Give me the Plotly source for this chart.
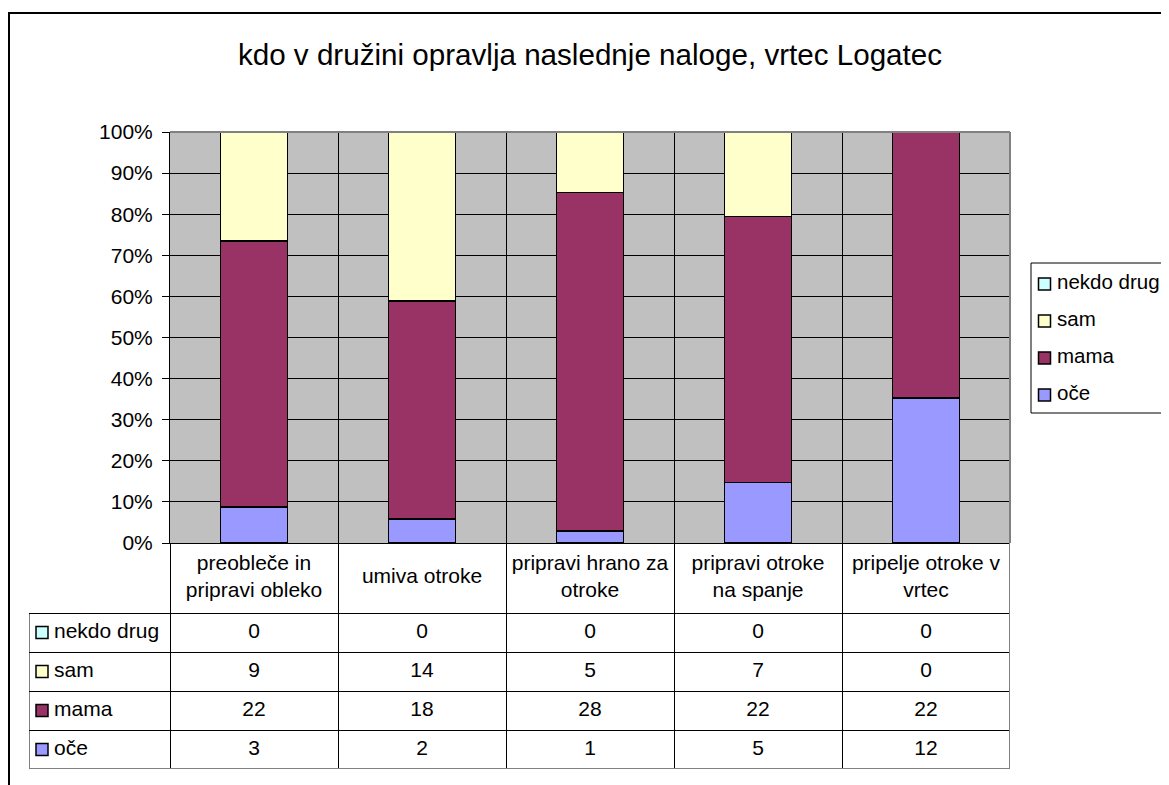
import plotly.graph_objects as go

# DATA ---------------------------------
categories = ['preobleče in<br>pripravi obleko', 'umiva otroke', 'pripravi hrano za<br>otroke',
              'pripravi otroke<br>na spanje', 'pripelje otroke v<br>vrtec']
series_names = ['oče', 'mama', 'sam', 'nekdo drug']
oce = [3, 2, 1, 5, 12]
mama = [22, 18, 28, 22, 22]
sam = [9, 14, 5, 7, 0]
nekdo_drug = [0, 0, 0, 0, 0]
series_colors = ['#9999FF', '#993366', '#FFFFCC', '#CCFFFF']
pct_ticks = list(range(0, 101, 10))

series_values = [oce, mama, sam, nekdo_drug]
title = 'kdo v družini opravlja naslednje naloge, vrtec Logatec'

# LAYOUT HELPERS ---------------------------------
# page body has an 8px margin, so the figure covers the window from (8, 8)
OFF = 8
W, H = 1169 - OFF, 785 - OFF
def px(x):
    return (x - OFF) / W
def py(y):
    return 1 - (y - OFF) / H

n = len(categories)
m = len(series_names)
xs = list(range(n))
rows = [i + 0.5 for i in range(m)]
bounds = [i - 0.5 for i in range(n + 1)]
label_w = 141 / 168          # width of row-label column, in category units
header_h = 70 / 39           # height of the header row, in table-row units
font_family = 'Arial, "Liberation Sans", sans-serif'
fs = 21
no_axis = dict(visible=False, showgrid=False, zeroline=False)

fig = go.Figure()

# STACKED 100% BARS ---------------------------------
for i, name in enumerate(series_names):
    fig.add_trace(go.Bar(
        x=xs, y=series_values[i], name=name, showlegend=False,
        marker=dict(color=series_colors[i], line=dict(color='black', width=1.6)),
        xaxis='x', yaxis='y'
    ))

# DATA TABLE ---------------------------------
for i, name in enumerate(series_names):
    fig.add_trace(go.Scatter(
        x=xs, y=[rows[i]] * n, text=[str(v) for v in series_values[i]],
        mode='text', textfont=dict(size=fs, color='black'),
        showlegend=False, hoverinfo='skip', xaxis='x2', yaxis='y2'
    ))

fig.add_trace(go.Scatter(
    x=xs, y=[m + header_h / 2] * n, text=categories,
    mode='text', textfont=dict(size=fs, color='black'),
    showlegend=False, hoverinfo='skip', xaxis='x2', yaxis='y2'
))

left = -0.5 - label_w
fig.add_trace(go.Scatter(
    x=[left + 13 / 168] * m, y=rows,
    mode='markers', marker=dict(symbol='square', size=12, color=series_colors,
                                line=dict(color='black', width=1.5)),
    showlegend=False, hoverinfo='skip', xaxis='x2', yaxis='y2'
))
fig.add_trace(go.Scatter(
    x=[left + 25 / 168] * m, y=rows,
    text=series_names, mode='text', textposition='middle right',
    textfont=dict(size=fs, color='black'),
    showlegend=False, hoverinfo='skip', xaxis='x2', yaxis='y2'
))

# LEGEND (own small axis, Excel style) ---------------------------------
fig.add_trace(go.Scatter(
    x=[13.5] * m, y=list(range(m)),
    mode='markers', marker=dict(symbol='square', size=12, color=series_colors,
                                line=dict(color='black', width=1.5)),
    showlegend=False, hoverinfo='skip', xaxis='x3', yaxis='y3', cliponaxis=False
))
fig.add_trace(go.Scatter(
    x=[26] * m, y=list(range(m)), text=series_names,
    mode='text', textposition='middle right', textfont=dict(size=20.5, color='black'),
    showlegend=False, hoverinfo='skip', xaxis='x3', yaxis='y3', cliponaxis=False
))

# SHAPES: plot area fill, borders ---------------------------------
shapes = [
    dict(type='rect', xref='x domain', yref='y domain', x0=0, x1=1, y0=0, y1=1,
         fillcolor='#C0C0C0', line=dict(width=0), layer='below'),
    dict(type='line', xref='x domain', yref='y domain', x0=0, x1=1, y0=1, y1=1,
         line=dict(color='#808080', width=2)),
    dict(type='line', xref='x domain', yref='y domain', x0=1, x1=1, y0=0, y1=1,
         line=dict(color='#808080', width=2)),
    # table outer borders
    dict(type='line', xref='x2', yref='y2', x0=left, x1=left, y0=0, y1=m,
         line=dict(color='black', width=1)),
    dict(type='line', xref='x2', yref='y2', x0=left, x1=n - 0.5, y0=0, y1=0,
         line=dict(color='#808080', width=2)),
    dict(type='line', xref='x2', yref='y2', x0=n - 0.5, x1=n - 0.5, y0=0, y1=m + header_h,
         line=dict(color='#808080', width=2)),
    # legend box
    dict(type='rect', xref='paper', yref='paper', x0=px(1031), x1=px(1180), y0=py(413), y1=py(263),
         line=dict(color='black', width=1), fillcolor='white', layer='below'),
    # chart outer border
    dict(type='rect', xref='paper', yref='paper', x0=px(9), x1=px(1180), y0=py(800), y1=py(13),
         line=dict(color='black', width=2), fillcolor='rgba(0,0,0,0)'),
]

fig.update_layout(
    width=W, height=H,
    barmode='stack', barnorm='percent', bargap=0.6,
    paper_bgcolor='white', plot_bgcolor='rgba(0,0,0,0)',
    font=dict(family=font_family, size=fs, color='black'),
    margin=dict(l=0, r=0, t=0, b=0, autoexpand=False),
    showlegend=False,
    title=dict(text=title, x=px(590), y=py(55), xanchor='center', yanchor='middle',
               xref='paper', yref='paper', font=dict(size=29.6, color='black')),
    xaxis=dict(domain=[px(170), px(1010)], anchor='y', range=[-0.5, n - 0.5],
               tickvals=bounds, showticklabels=False, ticks='', showgrid=True,
               gridcolor='black', gridwidth=1, zeroline=False,
               showline=True, linecolor='black', linewidth=1),
    yaxis=dict(domain=[py(543), py(132)], anchor='x', range=[0, 100],
               tickvals=pct_ticks, ticktext=[f'{v}%' for v in pct_ticks],
               ticks='outside', ticklen=7, tickcolor='black', ticklabelstandoff=5,
               showgrid=True, gridcolor='black', gridwidth=1, zeroline=False,
               showline=True, linecolor='black', linewidth=1,
               tickfont=dict(size=fs)),
    xaxis2=dict(domain=[px(29), px(1010)], anchor='y2', range=[left, n - 0.5],
                tickvals=bounds, showticklabels=False, ticks='', showgrid=True,
                gridcolor='black', gridwidth=1, zeroline=False),
    yaxis2=dict(domain=[py(769), py(543)], anchor='x2', range=[0, m + header_h],
                tickvals=list(range(1, m + 1)), showticklabels=False, ticks='',
                showgrid=True, gridcolor='black', gridwidth=1, zeroline=False),
    xaxis3=dict(domain=[px(1031), 1.0], anchor='y3', range=[0, 1169 - 1031], **no_axis),
    yaxis3=dict(domain=[py(413), py(263)], anchor='x3', range=[-0.486, 3.569], **no_axis),
    shapes=shapes,
)

fig.write_html('out.html')
